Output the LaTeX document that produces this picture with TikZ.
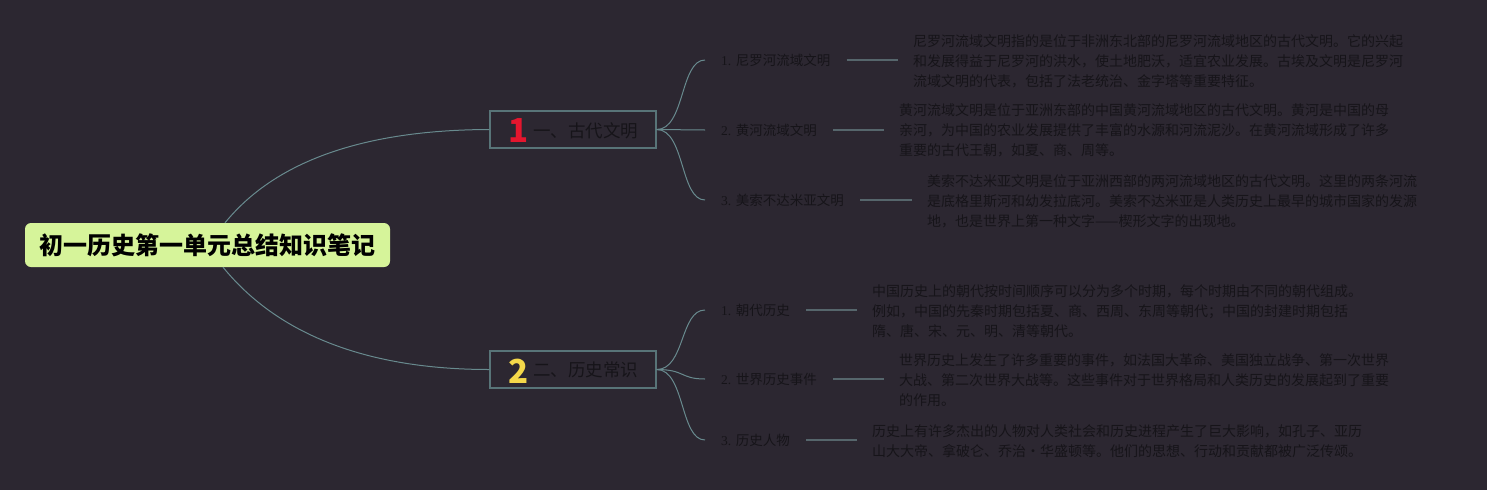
\documentclass[tikz,border=0pt]{standalone}
\usepackage{fontspec}
\setmainfont{Liberation Serif}
\newfontfamily\cjk{Noto Sans CJK SC}
\definecolor{bg}{RGB}{44,39,49}
\definecolor{rootfill}{RGB}{214,244,154}
\definecolor{boxline}{RGB}{88,116,120}
\definecolor{conn}{RGB}{104,138,142}
\definecolor{leafln}{RGB}{86,102,108}
\definecolor{txt}{RGB}{22,20,25}
\definecolor{numred}{RGB}{228,22,46}
\definecolor{numyel}{RGB}{244,216,74}
\tikzset{
  rootbox/.style={fill=rootfill, rounded corners=6pt, minimum width=365pt, minimum height=44pt, inner sep=0pt,
    font=\cjk\bfseries\fontsize{24}{24}\selectfont, text=black},
  branchbox/.style={draw=boxline, line width=1.3pt, fill=bg, minimum width=166pt, minimum height=37pt, inner sep=0pt},
  branchtxt/.style={anchor=west, inner sep=0pt, font=\cjk\fontsize{17.5}{18}\selectfont, text=txt},
  bignum/.style={inner sep=0pt, font=\cjk\bfseries\fontsize{33}{33}\selectfont},
  leaflabel/.style={anchor=west, inner xsep=16pt, inner ysep=2pt, font=\fontsize{13.5}{16}\selectfont, text=txt},
  leaftext/.style={anchor=west, inner xsep=15pt, inner ysep=2pt, align=left, font=\cjk\fontsize{14}{20}\selectfont, text=txt},
  conline/.style={draw=conn, line width=1pt},
  leafline/.style={draw=leafln, line width=2pt}
}
\begin{document}
\begin{tikzpicture}[x=1pt,y=-1pt]
\fill[bg] (0,0) rectangle (1487,490);
\useasboundingbox (0,0) rectangle (1487,490);

% root
\node[rootbox] (root) at (207.5,245) {初一历史第一单元总结知识笔记};

% branch boxes
\node[branchbox] (b1) at (573,129.5) {};
\node[branchbox] (b2) at (573,369.5) {};
\node[bignum, text=numred] (n1) at (518.5,130.5) {1};
\node[branchtxt] (t1) at (533,131) {一、古代文明};
\node[bignum, text=numyel] (n2) at (518.5,371) {2};
\node[branchtxt] (t2) at (533,370) {二、历史常识};

% root connectors
\draw[conline] ([xshift=17.5pt]root.north) .. controls (260,180) and (330,130) .. (b1.west);
\draw[conline] ([xshift=15.5pt]root.south) .. controls (258,310) and (330,369.5) .. (b2.west);

% leaf labels branch 1
\node[leaflabel] (l11) at (705,60) {1. {\cjk 尼罗河流域文明}};
\node[leaflabel] (l12) at (705,130) {2. {\cjk 黄河流域文明}};
\node[leaflabel] (l13) at (705,200) {3. {\cjk 美索不达米亚文明}};

% leaf labels branch 2
\node[leaflabel] (l21) at (705,310) {1. {\cjk 朝代历史}};
\node[leaflabel] (l22) at (705,379) {2. {\cjk 世界历史事件}};
\node[leaflabel] (l23) at (705,440) {3. {\cjk 历史人物}};

% branch to leaf connectors
\draw[conline] (b1.east) .. controls (685,129.5) and (680,60) .. (l11.west);
\draw[conline] (b1.east) -- (l12.west);
\draw[conline] (b1.east) .. controls (685,129.5) and (680,200) .. (l13.west);
\draw[conline] (b2.east) .. controls (685,369.5) and (680,310) .. (l21.west);
\draw[conline] (b2.east) .. controls (685,369.5) and (680,379) .. (l22.west);
\draw[conline] (b2.east) .. controls (685,369.5) and (680,440) .. (l23.west);

% descriptions
\node[leaftext] (d11) at (898,61) {尼罗河流域文明指的是位于非洲东北部的尼罗河流域地区的古代文明。它的兴起\\和发展得益于尼罗河的洪水，使土地肥沃，适宜农业发展。古埃及文明是尼罗河\\流域文明的代表，包括了法老统治、金字塔等重要特征。};
\node[leaftext] (d12) at (884,130) {黄河流域文明是位于亚洲东部的中国黄河流域地区的古代文明。黄河是中国的母\\亲河，为中国的农业发展提供了丰富的水源和河流泥沙。在黄河流域形成了许多\\重要的古代王朝，如夏、商、周等。};
\node[leaftext] (d13) at (912,201) {美索不达米亚文明是位于亚洲西部的两河流域地区的古代文明。这里的两条河流\\是底格里斯河和幼发拉底河。美索不达米亚是人类历史上最早的城市国家的发源\\地，也是世界上第一种文字——楔形文字的出现地。};
\node[leaftext] (d21) at (857,311) {中国历史上的朝代按时间顺序可以分为多个时期，每个时期由不同的朝代组成。\\例如，中国的先秦时期包括夏、商、西周、东周等朝代；中国的封建时期包括\\隋、唐、宋、元、明、清等朝代。};
\node[leaftext] (d22) at (884,380) {世界历史上发生了许多重要的事件，如法国大革命、美国独立战争、第一次世界\\大战、第二次世界大战等。这些事件对于世界格局和人类历史的发展起到了重要\\的作用。};
\node[leaftext] (d23) at (857,441) {历史上有许多杰出的人物对人类社会和历史进程产生了巨大影响，如孔子、亚历\\山大大帝、拿破仑、乔治·华盛顿等。他们的思想、行动和贡献都被广泛传颂。};

% leaf lines (horizontal)
\draw[leafline] (l11.east) -- (l11.east -| d11.west);
\draw[leafline] (l12.east) -- (l12.east -| d12.west);
\draw[leafline] (l13.east) -- (l13.east -| d13.west);
\draw[leafline] (l21.east) -- (l21.east -| d21.west);
\draw[leafline] (l22.east) -- (l22.east -| d22.west);
\draw[leafline] (l23.east) -- (l23.east -| d23.west);
\end{tikzpicture}
\end{document}
